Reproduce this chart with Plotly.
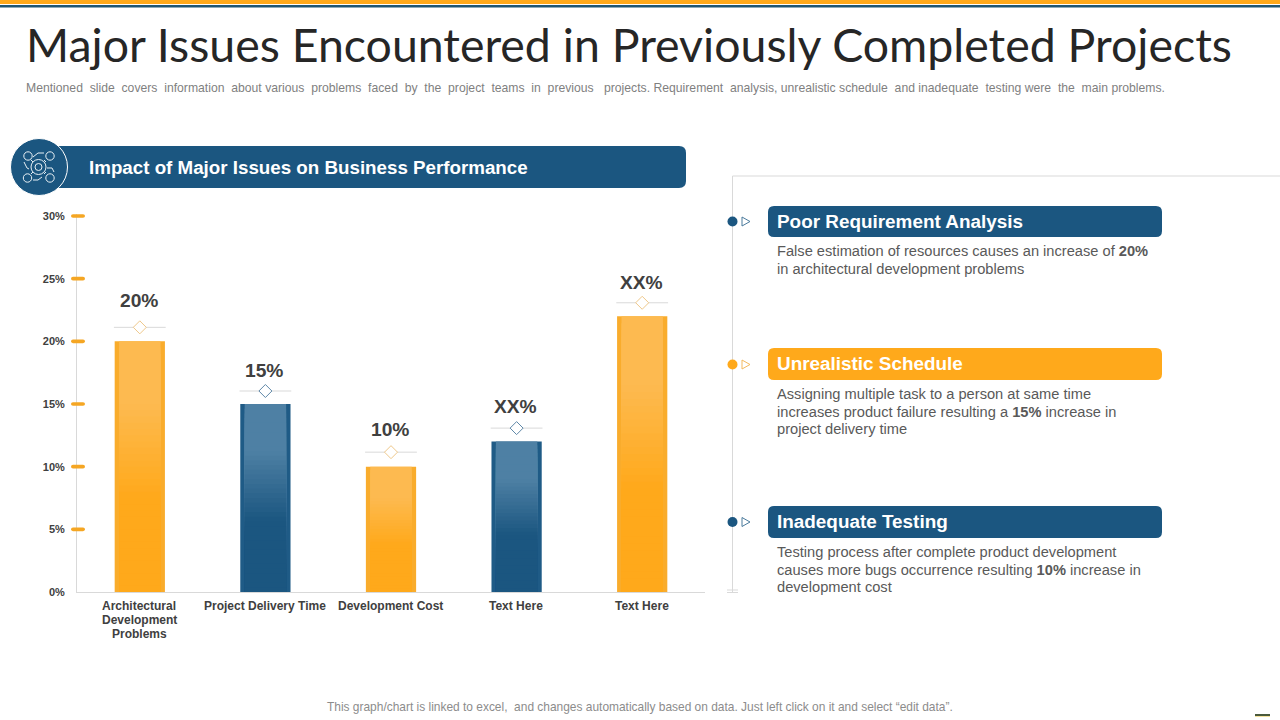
import plotly.graph_objects as go

# ---------- data ----------
categories = ["Architectural<br>Development<br>Problems", "Project Delivery Time", "Development Cost", "Text Here", "Text Here"]
values = [20, 15, 10, 12, 22]
value_labels = ["20%", "15%", "10%", "XX%", "XX%"]
bar_kinds = ["orange", "blue", "orange", "blue", "orange"]
y_ticks = [0, 5, 10, 15, 20, 25, 30]

TITLE = "Major Issues Encountered in Previously Completed Projects"
SP = "\u00a0 "
SUBTITLE_A = ("Mentioned" + SP + "slide" + SP + "covers" + SP + "information" + SP + "about various" + SP + "problems" + SP
              + "faced" + SP + "by" + SP + "the" + SP + "project" + SP + "teams" + SP + "in" + SP + "previous")
SUBTITLE_B = ("projects. Requirement" + SP + "analysis, unrealistic schedule" + SP + "and inadequate" + SP
              + "testing were" + SP + "the" + SP + "main problems.")
CHART_HEADER = "Impact of Major Issues on Business Performance"
FOOTER = "This graph/chart is linked to excel,\u00a0 and changes automatically based on data. Just left click on it and select \u201cedit data\u201d."
panel_heads = ["Poor Requirement Analysis", "Unrealistic Schedule", "Inadequate Testing"]
panel_kinds = ["blue", "orange", "blue"]
panel_texts = [
    ["False estimation of resources causes an increase of <b>20%</b>", "in architectural development problems"],
    ["Assigning multiple task to a person at same time", "increases product failure resulting a <b>15%</b> increase in", "project delivery time"],
    ["Testing process after complete product development", "causes more bugs occurrence resulting <b>10%</b> increase in", "development cost"],
]

# ---------- style ----------
W, H = 1280, 720
BLUE, ORANGE = "#1B5680", "#FFA91B"
SOLID = {"orange": ORANGE, "blue": BLUE}
EDGE = {"orange": "#F9AC2C", "blue": "#1F5B86"}
LIGHT = {"orange": (253, 186, 80), "blue": (78, 128, 164)}
BASE = {"orange": (255, 169, 27), "blue": (27, 86, 128)}
FONT = "Liberation Sans"
label_lift_px = [41, 34, 37, 35, 34]
marker_lift_px = [14, 13, 14.5, 13.5, 13.5]


def px(x):
    return x / W


def py(y):
    return 1 - y / H


def mix(kind, t):
    a, b = LIGHT[kind], BASE[kind]
    return "rgb(%d,%d,%d)" % tuple(round(a[i] * t + b[i] * (1 - t)) for i in range(3))


fig = go.Figure()
xs = list(range(len(values)))

# base bars
fig.add_trace(go.Bar(x=xs, y=values, width=0.4, marker=dict(color=[EDGE[k] for k in bar_kinds], line_width=0),
                     showlegend=False, hoverinfo="skip"))
# inner bars, painted from full height downwards so the colour steps form a gradient without seams
N = 40
GRAD_END = 0.62
HOLD = 0.25
for i in range(N):
    frac = 1 - i / N
    depth = (i + 0.5) / N
    if depth < HOLD:
        t = 1.0
    elif depth < GRAD_END:
        t = (GRAD_END - depth) / (GRAD_END - HOLD)
    else:
        t = 0.0
    fig.add_trace(go.Bar(x=xs, y=[v * frac for v in values], width=0.33,
                         marker=dict(color=[mix(k, t) for k in bar_kinds], line_width=0),
                         showlegend=False, hoverinfo="skip"))

# marker above each bar: thin rule with a diamond
PX_PER_UNIT = (592 - 216) / 30
Y_MAX = 30.15
lift = [v + m / PX_PER_UNIT for v, m in zip(values, marker_lift_px)]
fig.add_trace(go.Scatter(x=xs, y=lift, mode="markers", showlegend=False, hoverinfo="skip", cliponaxis=False,
                         marker=dict(symbol="line-ew", size=37, color="#D9D9D9", line=dict(color="#D9D9D9", width=1))))
fig.add_trace(go.Scatter(x=xs, y=lift, mode="markers", showlegend=False, hoverinfo="skip", cliponaxis=False,
                         marker=dict(symbol="diamond", size=10, color="white",
                                     line=dict(width=1, color=["#EFC88A" if k == "orange" else "#5F88A8" for k in bar_kinds]))))

shapes, ann = [], []


def rect(x0, y0, x1, y1, color):
    shapes.append(dict(type="rect", xref="paper", yref="paper", x0=px(x0), x1=px(x1), y0=py(y0), y1=py(y1),
                       fillcolor=color, line_width=0, layer="below"))


def line(x0, y0, x1, y1, color, width=1):
    shapes.append(dict(type="line", xref="paper", yref="paper", x0=px(x0), x1=px(x1), y0=py(y0), y1=py(y1),
                       line=dict(color=color, width=width), layer="below"))


def circle(cx, cy, r, fill, stroke=None, width=1):
    shapes.append(dict(type="circle", xref="paper", yref="paper", x0=px(cx - r), x1=px(cx + r), y0=py(cy - r), y1=py(cy + r),
                       fillcolor=fill, line=dict(color=stroke or fill, width=width if stroke else 0), layer="above"))


def path(points, fill=None, stroke=None, width=1, closed=False):
    d = "M " + " L ".join(f"{px(x):.5f},{py(y):.5f}" for x, y in points) + (" Z" if closed else "")
    shapes.append(dict(type="path", xref="paper", yref="paper", path=d, fillcolor=fill or "rgba(0,0,0,0)",
                       line=dict(color=stroke or "rgba(0,0,0,0)", width=width), layer="above"))


def round_rect(x0, y0, x1, y1, r, color, left_round=True):
    X0, X1, Y0, Y1 = px(x0), px(x1), py(y0), py(y1)
    rx, ry = r / W, r / H
    if left_round:
        start = f"M {X0+rx},{Y0} L {X1-rx},{Y0}"
        end = f"L {X0+rx},{Y1} Q {X0},{Y1} {X0},{Y1+ry} L {X0},{Y0-ry} Q {X0},{Y0} {X0+rx},{Y0} Z"
    else:
        start = f"M {X0},{Y0} L {X1-rx},{Y0}"
        end = f"L {X0},{Y1} Z"
    d = f"{start} Q {X1},{Y0} {X1},{Y0-ry} L {X1},{Y1+ry} Q {X1},{Y1} {X1-rx},{Y1} {end}"
    shapes.append(dict(type="path", xref="paper", yref="paper", path=d, fillcolor=color, line_width=0, layer="below"))


def text(x, y, s, size, color, anchor="left", bold=False, family=FONT, weight=None):
    f = dict(family=family, size=size, color=color)
    if weight:
        f["weight"] = weight
    ann.append(dict(xref="paper", yref="paper", x=px(x), y=py(y), text=f"<b>{s}</b>" if bold else s, showarrow=False,
                    xanchor=anchor, yanchor="middle", align=anchor, font=f, borderpad=0, borderwidth=0))


# top bands, corner mark
rect(0, 0, W, 4, ORANGE)
rect(0, 5, W, 7.5, "#1F5673")
rect(1255, 714, 1270, 716, "#4A5A3C")
rect(1255, 716, 1270, 717, "#F5E3A0")

# titles
text(26, 44, TITLE, 46.45, "#262626", family="Lato", weight=400)
text(25.5, 88, SUBTITLE_A, 12.2, "#7F7F7F")
text(603.5, 88, SUBTITLE_B, 12.2, "#7F7F7F")
text(640, 707, FOOTER, 11.95, "#8C8C8C", anchor="center")

# chart header
round_rect(55, 146, 686, 188, 7, BLUE, left_round=False)
text(88.5, 167, CHART_HEADER, 18.75, "white", bold=True)
circle(39, 167, 28.5, BLUE, "white", 1)

# icon: gear with four dials and linking arrows
ICON = "#E8F0F5"
circle(38.5, 167, 7.5, "rgba(0,0,0,0)", ICON, 1)
circle(38.5, 167, 3.5, "rgba(0,0,0,0)", ICON, 1)
for cx, cy in [(28, 156), (50, 156), (27.5, 178), (50, 178)]:
    circle(cx, cy, 4.2, "rgba(0,0,0,0)", ICON, 1)
for a, b in [((33, 157), (38, 153)), ((38, 153), (44, 153)), ((24, 162), (27, 168)), ((27, 168), (29, 169)),
             ((47, 168), (52, 168)), ((52, 168), (54, 172)), ((33, 180), (38, 180)), ((38, 180), (42, 177)),
             ((31, 160), (33, 162)), ((44, 160), (46, 162)), ((31, 174), (33, 172)), ((44, 174), (46, 172))]:
    path([a, b], stroke=ICON, width=1)

# value axis marks with rounded ends
cap = 1.8 / PX_PER_UNIT
for t in y_ticks:
    if t == 0:
        continue
    a, b, c, d = px(71), px(73), px(83), px(85)
    shapes.append(dict(type="path", xref="paper", yref="y", layer="above", line_width=0, fillcolor="#F5A623",
                       path=f"M {b},{t+cap} L {c},{t+cap} Q {d},{t+cap} {d},{t} Q {d},{t-cap} {c},{t-cap} "
                            f"L {b},{t-cap} Q {a},{t-cap} {a},{t} Q {a},{t+cap} {b},{t+cap} Z"))

# data labels
for x, v, lab, lf in zip(xs, values, value_labels, label_lift_px):
    ann.append(dict(x=x, y=v, xref="x", yref="y", text=f"<b>{lab}</b>", showarrow=False, yanchor="middle", xshift=-1,
                    yshift=lf, font=dict(family=FONT, size=19.2, color="#404040")))

# category labels, one line each at the reference's tighter line step
for x, cat in zip(xs, categories):
    for j, part in enumerate(cat.split("<br>")):
        ann.append(dict(x=x, xref="x", y=py(605.5 + 14 * j), yref="paper", text=f"<b>{part}</b>", showarrow=False,
                        yanchor="middle", xshift=-0.5, font=dict(family=FONT, size=12, color="#404040")))

# right panel
line(732.5, 176, 1280, 176, "#D9D9D9")
line(732.5, 176, 732.5, 592, "#D9D9D9")
line(727, 590, 738, 590, "#D9D9D9")
line(727, 592.5, 738, 592.5, "#D9D9D9")

head_tops = [206, 348, 506]
head_bottoms = [237, 380, 538]
dot_y = [221.5, 364.5, 522]
body_y = [251, 394, 552]
LINE_STEP = 17.7
for head, kind, body, t, b, dy, by in zip(panel_heads, panel_kinds, panel_texts, head_tops, head_bottoms, dot_y, body_y):
    col = SOLID[kind]
    round_rect(768, t, 1162, b, 6, col)
    text(776.5, (t + b) / 2 - 0.5, head, 18.9, "white", bold=True)
    circle(732.5, dy, 5, col)
    path([(742, dy - 4.5), (750, dy), (742, dy + 4.5)], fill="white", stroke="#F3B95F" if kind == "orange" else "#4A7A9C", closed=True)
    for j, row in enumerate(body):
        text(776.5, by + LINE_STEP * j, row, 14.65, "#595959")

fig.update_layout(
    width=W, height=H, autosize=False, margin=dict(l=0, r=0, t=0, b=0),
    paper_bgcolor="white", plot_bgcolor="white", showlegend=False, barmode="overlay",
    shapes=shapes, annotations=ann,
    font=dict(family=FONT),
    xaxis=dict(domain=[px(77), px(705)], range=[-0.5, 4.5], tickmode="array", tickvals=xs, showticklabels=False,
               showgrid=False, zeroline=False, showline=True, linecolor="#D9D9D9", linewidth=1, ticks="", anchor="y"),
    yaxis=dict(domain=[py(592), py(592 - Y_MAX * PX_PER_UNIT)], range=[0, Y_MAX], tickmode="array", tickvals=y_ticks,
               ticktext=[f"{t}%" for t in y_ticks], showgrid=False, zeroline=False, showline=True,
               linecolor="#D9D9D9", linewidth=1, ticks="", ticklen=0, tickfont=dict(family=FONT, size=11, color="#404040", weight=700),
               anchor="x", automargin=False, ticklabelstandoff=9),
)

fig.write_html("out.html", config=dict(displayModeBar=False), post_script="document.body.style.margin='0';")
